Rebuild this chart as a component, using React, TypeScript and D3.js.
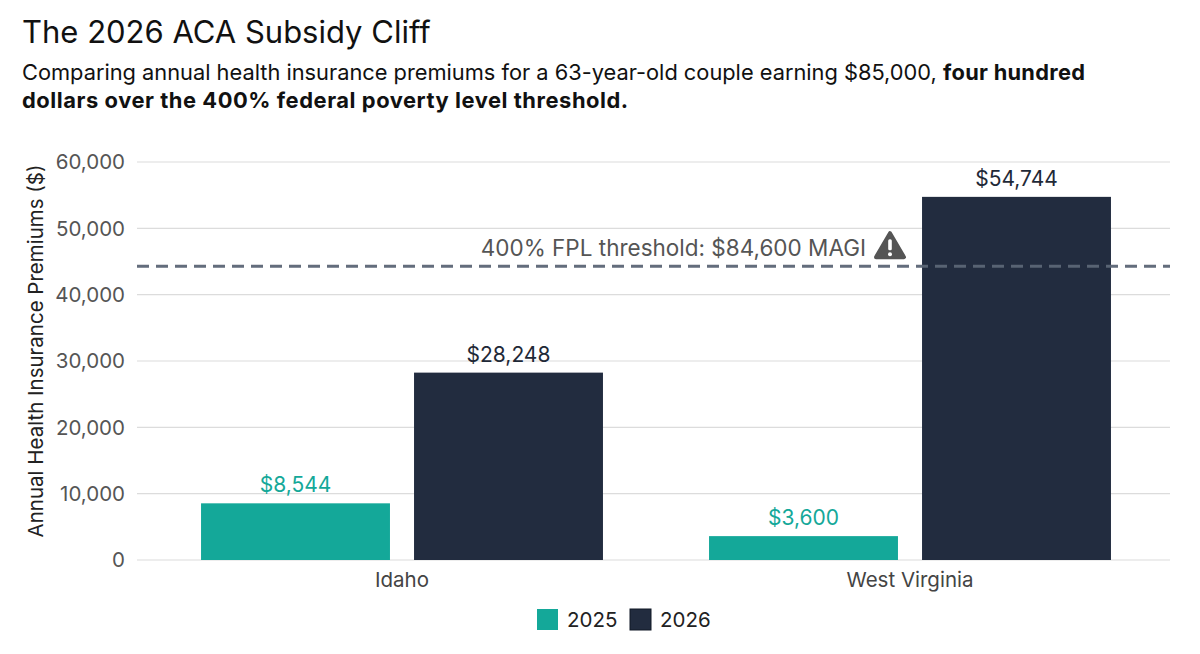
import * as d3 from "d3";

const STATES = ["Idaho", "West Virginia"];
const YEARS = ["2025", "2026"];
const PREMIUMS_2025 = [8544, 3600];
const PREMIUMS_2026 = [28248, 54744];
const Y_TICKS = [0, 10000, 20000, 30000, 40000, 50000, 60000];
const THRESHOLD = 44300;
const THRESHOLD_LABEL = "400% FPL threshold: $84,600 MAGI";

const COLORS: Record<string, string> = { "2025": "#14a899", "2026": "#222c3f" };
const LABEL_COLORS: Record<string, string> = { "2025": "#14a899", "2026": "#1f2937" };

const W = 1200, H = 654;
const PLOT = { left: 137, right: 1170, top: 162, bottom: 560 };
const FONT = "Inter, 'Noto Sans', sans-serif";

export default function App() {
  const y = d3.scaleLinear().domain([0, 60000]).range([PLOT.bottom, PLOT.top]);
  const x0 = d3.scaleBand().domain(STATES).range([148, 1164]);
  const x1 = d3.scaleBand().domain(YEARS).range([0, x0.bandwidth()]).paddingInner(0.113).paddingOuter(0.249);
  const fmt = d3.format(",");
  const rows = STATES.map((s, i) => ({ state: s, values: [PREMIUMS_2025[i], PREMIUMS_2026[i]] }));
  const ty = y(THRESHOLD);

  return (
    <svg width={W} height={H} style={{ position: "absolute", left: 0, top: 0, background: "#fff" }} fontFamily={FONT}>
      <text x={22} y={43} fontSize={31} fill="#111">The 2026 ACA Subsidy Cliff</text>
      <text x={22} y={80} fontSize={21.8} fill="#111">
        Comparing annual health insurance premiums for a 63-year-old couple earning $85,000,{" "}
        <tspan fontWeight={700} letterSpacing={0.3}>four hundred</tspan>
      </text>
      <text x={22} y={108} fontSize={21.9} fill="#111" fontWeight={700} letterSpacing={0.55}>
        dollars over the 400% federal poverty level threshold.
      </text>

      {Y_TICKS.map(t => (
        <g key={t}>
          <line x1={PLOT.left} x2={PLOT.right} y1={y(t)} y2={y(t)} stroke="#dcdcdc" strokeWidth={1.2} />
          <text x={125} y={y(t)} dy="0.35em" textAnchor="end" fontSize={20.5} fill="#555">{fmt(t)}</text>
        </g>
      ))}
      <text transform={`translate(43,351) rotate(-90)`} textAnchor="middle" fontSize={20.5} fill="#222">
        Annual Health Insurance Premiums ($)
      </text>

      {rows.map(r => (
        <g key={r.state} transform={`translate(${x0(r.state)},0)`}>
          {YEARS.map((yr, j) => {
            const v = r.values[j];
            const bx = x1(yr) ?? 0;
            return (
              <g key={yr}>
                <rect x={bx} y={y(v)} width={x1.bandwidth()} height={PLOT.bottom - y(v)} fill={COLORS[yr]} />
                <text x={bx + x1.bandwidth() / 2} y={y(v) - 11} textAnchor="middle" fontSize={21} fill={LABEL_COLORS[yr]}>
                  ${fmt(v)}
                </text>
              </g>
            );
          })}
          <text x={x0.bandwidth() / 2} y={587} textAnchor="middle" fontSize={20.5} fill="#444">{r.state}</text>
        </g>
      ))}

      <line x1={PLOT.left} x2={PLOT.right} y1={ty} y2={ty} stroke="#5b6676" strokeWidth={3} strokeDasharray="12 7" opacity={0.95} />
      <text x={866} y={ty - 10} textAnchor="end" fontSize={22.5} fill="#555">{THRESHOLD_LABEL}</text>
      <g transform={`translate(890,${ty - 21})`}>
        <path d="M0,-12 L14,12 L-14,12 Z" fill="#555" stroke="#555" strokeWidth={4} strokeLinejoin="round" />
        <rect x={-1.8} y={-6} width={3.6} height={11} rx={1.5} fill="#fff" />
        <circle cx={0} cy={9} r={2} fill="#fff" />
      </g>

      {YEARS.map((yr, i) => (
        <g key={yr} transform={`translate(${537 + i * 93},609)`}>
          <rect width={21} height={21} fill={COLORS[yr]} stroke={yr === "2026" ? "#111827" : "none"} strokeWidth={1} />
          <text x={30} y={10.5} dy="0.36em" fontSize={20.5} fill="#222">{yr}</text>
        </g>
      ))}
    </svg>
  );
}
